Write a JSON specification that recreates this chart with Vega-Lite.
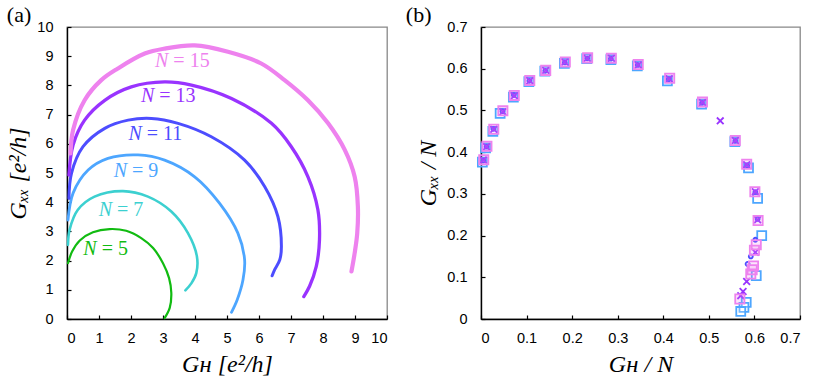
{
  "$schema": "https://vega.github.io/schema/vega-lite/v6.json",
  "background": "white",
  "padding": {"left": 6, "top": 3, "right": 5, "bottom": 0},
  "spacing": 16,
  "config": {
    "view": {"stroke": "#888", "strokeWidth": 1.3},
    "axis": {"grid": false, "domainColor": "#000", "domainWidth": 1.4, "tickColor": "#000", "tickWidth": 1.2, "tickSize": -4, "labelFont": "Liberation Sans", "labelFontSize": 14.5, "labelColor": "#000", "labelOverlap": false, "titleFont": "Liberation Serif", "titleFontSize": 24, "titleFontWeight": "normal", "titleFontStyle": "italic", "titleColor": "#000"},
    "axisX": {"labelPadding": 16, "titlePadding": 8},
    "axisY": {"labelPadding": 18, "titlePadding": 6},
    "title": {"font": "Liberation Serif", "fontSize": 22, "fontWeight": "normal", "color": "#000", "anchor": "start", "frame": "bounds"}
  },
  "hconcat": [
    {
      "width": 320,
      "height": 292,
      "title": {"text": "(a)", "offset": -8},
      "encoding": {
        "x": {"field": "gh", "type": "quantitative", "scale": {"domain": [0, 10], "nice": false}, "axis": {"values": [0, 1, 2, 3, 4, 5, 6, 7, 8, 9, 10], "title": "Gʜ [e²/h]"}},
        "y": {"field": "gxx", "type": "quantitative", "scale": {"domain": [0, 10], "nice": false}, "axis": {"values": [0, 1, 2, 3, 4, 5, 6, 7, 8, 9, 10], "title": "Gₓₓ [e²/h]"}},
        "color": {"field": "N", "type": "nominal", "scale": {"domain": ["5", "7", "9", "11", "13", "15"], "range": ["#11bb11", "#3cd0d0", "#4da6ff", "#4d4dff", "#9933ff", "#ee82ee"]}, "legend": null}
      },
      "layer": [
        {
          "data": {"values": [
            {"N": "5", "gh": 3.05, "gxx": 0.03}, {"N": "5", "gh": 3.21, "gxx": 0.38}, {"N": "5", "gh": 3.26, "gxx": 0.89}, {"N": "5", "gh": 3.19, "gxx": 1.40}, {"N": "5", "gh": 3.0, "gxx": 1.91}, {"N": "5", "gh": 2.69, "gxx": 2.43}, {"N": "5", "gh": 2.32, "gxx": 2.77}, {"N": "5", "gh": 1.85, "gxx": 3.02}, {"N": "5", "gh": 1.33, "gxx": 3.08}, {"N": "5", "gh": 0.81, "gxx": 2.97}, {"N": "5", "gh": 0.40, "gxx": 2.69}, {"N": "5", "gh": 0.16, "gxx": 2.31}, {"N": "5", "gh": 0.03, "gxx": 1.91},
            {"N": "7", "gh": 3.70, "gxx": 0.98}, {"N": "7", "gh": 3.89, "gxx": 1.23}, {"N": "7", "gh": 4.04, "gxx": 1.57}, {"N": "7", "gh": 4.06, "gxx": 2.14}, {"N": "7", "gh": 3.78, "gxx": 2.94}, {"N": "7", "gh": 3.26, "gxx": 3.68}, {"N": "7", "gh": 2.53, "gxx": 4.19}, {"N": "7", "gh": 1.75, "gxx": 4.38}, {"N": "7", "gh": 0.86, "gxx": 4.19}, {"N": "7", "gh": 0.34, "gxx": 3.74}, {"N": "7", "gh": 0.08, "gxx": 3.05}, {"N": "7", "gh": 0.03, "gxx": 2.54},
            {"N": "9", "gh": 5.14, "gxx": 0.23}, {"N": "9", "gh": 5.32, "gxx": 0.66}, {"N": "9", "gh": 5.50, "gxx": 1.34}, {"N": "9", "gh": 5.55, "gxx": 2.03}, {"N": "9", "gh": 5.34, "gxx": 2.94}, {"N": "9", "gh": 4.77, "gxx": 3.96}, {"N": "9", "gh": 3.99, "gxx": 4.87}, {"N": "9", "gh": 3.05, "gxx": 5.44}, {"N": "9", "gh": 2.22, "gxx": 5.62}, {"N": "9", "gh": 1.28, "gxx": 5.50}, {"N": "9", "gh": 0.66, "gxx": 5.10}, {"N": "9", "gh": 0.19, "gxx": 4.31}, {"N": "9", "gh": 0.03, "gxx": 3.39},
            {"N": "11", "gh": 6.41, "gxx": 1.48}, {"N": "11", "gh": 6.49, "gxx": 1.69}, {"N": "11", "gh": 6.65, "gxx": 2.03}, {"N": "11", "gh": 6.70, "gxx": 2.48}, {"N": "11", "gh": 6.59, "gxx": 3.51}, {"N": "11", "gh": 6.18, "gxx": 4.53}, {"N": "11", "gh": 5.55, "gxx": 5.44}, {"N": "11", "gh": 4.51, "gxx": 6.24}, {"N": "11", "gh": 3.47, "gxx": 6.70}, {"N": "11", "gh": 2.64, "gxx": 6.87}, {"N": "11", "gh": 1.91, "gxx": 6.81}, {"N": "11", "gh": 1.18, "gxx": 6.53}, {"N": "11", "gh": 0.50, "gxx": 5.90}, {"N": "11", "gh": 0.14, "gxx": 4.99}, {"N": "11", "gh": 0.06, "gxx": 4.13},
            {"N": "13", "gh": 7.40, "gxx": 0.77}, {"N": "13", "gh": 7.58, "gxx": 1.12}, {"N": "13", "gh": 7.79, "gxx": 1.80}, {"N": "13", "gh": 7.89, "gxx": 2.71}, {"N": "13", "gh": 7.84, "gxx": 3.74}, {"N": "13", "gh": 7.53, "gxx": 4.87}, {"N": "13", "gh": 7.01, "gxx": 5.90}, {"N": "13", "gh": 6.39, "gxx": 6.70}, {"N": "13", "gh": 5.14, "gxx": 7.55}, {"N": "13", "gh": 3.89, "gxx": 8.01}, {"N": "13", "gh": 3.05, "gxx": 8.12}, {"N": "13", "gh": 2.01, "gxx": 7.95}, {"N": "13", "gh": 1.18, "gxx": 7.49}, {"N": "13", "gh": 0.55, "gxx": 6.81}, {"N": "13", "gh": 0.19, "gxx": 5.96}, {"N": "13", "gh": 0.06, "gxx": 4.93},
            {"N": "15", "gh": 8.89, "gxx": 1.63}, {"N": "15", "gh": 8.99, "gxx": 2.26}, {"N": "15", "gh": 9.07, "gxx": 2.94}, {"N": "15", "gh": 9.09, "gxx": 3.85}, {"N": "15", "gh": 8.99, "gxx": 4.87}, {"N": "15", "gh": 8.68, "gxx": 5.79}, {"N": "15", "gh": 8.16, "gxx": 6.70}, {"N": "15", "gh": 7.53, "gxx": 7.49}, {"N": "15", "gh": 6.80, "gxx": 8.18}, {"N": "15", "gh": 6.07, "gxx": 8.75}, {"N": "15", "gh": 5.03, "gxx": 9.15}, {"N": "15", "gh": 3.99, "gxx": 9.37}, {"N": "15", "gh": 3.05, "gxx": 9.26}, {"N": "15", "gh": 2.43, "gxx": 9.09}, {"N": "15", "gh": 1.59, "gxx": 8.58}, {"N": "15", "gh": 1.07, "gxx": 8.18}, {"N": "15", "gh": 0.55, "gxx": 7.49}, {"N": "15", "gh": 0.19, "gxx": 6.47}, {"N": "15", "gh": 0.11, "gxx": 5.67}
          ]},
          "mark": {"type": "line", "interpolate": "catmull-rom", "strokeCap": "round", "strokeJoin": "round"},
          "encoding": {
            "strokeWidth": {"field": "N", "type": "nominal", "scale": {"type": "ordinal", "domain": ["5", "7", "9", "11", "13", "15"], "range": [2.2, 2.6, 2.8, 3, 3.3, 4.2]}, "legend": null},
            "detail": {"field": "N"},
            "order": {"value": null}
          }
        },
        {
          "data": {"name": "labels", "values": [
            {"N": "5", "gh": 0.99, "gxx": 2.20, "t": "= 5"},
            {"N": "7", "gh": 1.47, "gxx": 3.53, "t": "= 7"},
            {"N": "9", "gh": 1.94, "gxx": 4.87, "t": "= 9"},
            {"N": "11", "gh": 2.40, "gxx": 6.13, "t": "= 11"},
            {"N": "13", "gh": 2.79, "gxx": 7.44, "t": "= 13"},
            {"N": "15", "gh": 3.23, "gxx": 8.63, "t": "= 15"}
          ]},
          "mark": {"type": "text", "text": "N", "font": "Liberation Serif", "fontSize": 20, "fontStyle": "italic", "align": "right", "baseline": "alphabetic", "dx": -2}
        },
        {
          "data": {"name": "labels"},
          "mark": {"type": "text", "font": "Liberation Serif", "fontSize": 20, "align": "left", "baseline": "alphabetic", "dx": 3},
          "encoding": {"text": {"field": "t"}}
        }
      ]
    },
    {
      "width": 319,
      "height": 292,
      "title": {"text": "(b)", "dx": -11, "offset": -8},
      "data": {"values": [
        {"N": "9", "gh": 0.003, "gxx": 0.376}, {"N": "9", "gh": 0.010, "gxx": 0.410}, {"N": "9", "gh": 0.026, "gxx": 0.450}, {"N": "9", "gh": 0.042, "gxx": 0.493}, {"N": "9", "gh": 0.071, "gxx": 0.532}, {"N": "9", "gh": 0.105, "gxx": 0.569}, {"N": "9", "gh": 0.140, "gxx": 0.594}, {"N": "9", "gh": 0.183, "gxx": 0.613}, {"N": "9", "gh": 0.232, "gxx": 0.624}, {"N": "9", "gh": 0.285, "gxx": 0.622}, {"N": "9", "gh": 0.343, "gxx": 0.607}, {"N": "9", "gh": 0.409, "gxx": 0.571}, {"N": "9", "gh": 0.484, "gxx": 0.515}, {"N": "9", "gh": 0.557, "gxx": 0.425}, {"N": "9", "gh": 0.587, "gxx": 0.362}, {"N": "9", "gh": 0.607, "gxx": 0.289}, {"N": "9", "gh": 0.616, "gxx": 0.200}, {"N": "9", "gh": 0.604, "gxx": 0.104}, {"N": "9", "gh": 0.582, "gxx": 0.040}, {"N": "9", "gh": 0.577, "gxx": 0.028}, {"N": "9", "gh": 0.570, "gxx": 0.018},
        {"N": "11", "gh": 0.005, "gxx": 0.380}, {"N": "11", "gh": 0.012, "gxx": 0.413}, {"N": "11", "gh": 0.027, "gxx": 0.456}, {"N": "11", "gh": 0.047, "gxx": 0.498}, {"N": "11", "gh": 0.072, "gxx": 0.537}, {"N": "11", "gh": 0.106, "gxx": 0.571}, {"N": "11", "gh": 0.141, "gxx": 0.595}, {"N": "11", "gh": 0.184, "gxx": 0.615}, {"N": "11", "gh": 0.233, "gxx": 0.625}, {"N": "11", "gh": 0.285, "gxx": 0.624}, {"N": "11", "gh": 0.344, "gxx": 0.609}, {"N": "11", "gh": 0.412, "gxx": 0.575}, {"N": "11", "gh": 0.485, "gxx": 0.518}, {"N": "11", "gh": 0.558, "gxx": 0.427}, {"N": "11", "gh": 0.584, "gxx": 0.368}, {"N": "11", "gh": 0.602, "gxx": 0.304}, {"N": "11", "gh": 0.607, "gxx": 0.240}, {"N": "11", "gh": 0.602, "gxx": 0.190}, {"N": "11", "gh": 0.592, "gxx": 0.150}, {"N": "11", "gh": 0.585, "gxx": 0.132},
        {"N": "13", "gh": 0.005, "gxx": 0.381}, {"N": "13", "gh": 0.012, "gxx": 0.413}, {"N": "13", "gh": 0.028, "gxx": 0.455}, {"N": "13", "gh": 0.048, "gxx": 0.497}, {"N": "13", "gh": 0.073, "gxx": 0.535}, {"N": "13", "gh": 0.107, "gxx": 0.571}, {"N": "13", "gh": 0.142, "gxx": 0.596}, {"N": "13", "gh": 0.184, "gxx": 0.616}, {"N": "13", "gh": 0.233, "gxx": 0.625}, {"N": "13", "gh": 0.286, "gxx": 0.625}, {"N": "13", "gh": 0.345, "gxx": 0.609}, {"N": "13", "gh": 0.413, "gxx": 0.576}, {"N": "13", "gh": 0.486, "gxx": 0.519}, {"N": "13", "gh": 0.525, "gxx": 0.475}, {"N": "13", "gh": 0.558, "gxx": 0.428}, {"N": "13", "gh": 0.583, "gxx": 0.370}, {"N": "13", "gh": 0.602, "gxx": 0.305}, {"N": "13", "gh": 0.607, "gxx": 0.238}, {"N": "13", "gh": 0.602, "gxx": 0.160}, {"N": "13", "gh": 0.583, "gxx": 0.090}, {"N": "13", "gh": 0.575, "gxx": 0.066}, {"N": "13", "gh": 0.570, "gxx": 0.056},
        {"N": "15", "gh": 0.006, "gxx": 0.382}, {"N": "15", "gh": 0.013, "gxx": 0.414}, {"N": "15", "gh": 0.028, "gxx": 0.455}, {"N": "15", "gh": 0.048, "gxx": 0.499}, {"N": "15", "gh": 0.073, "gxx": 0.536}, {"N": "15", "gh": 0.107, "gxx": 0.572}, {"N": "15", "gh": 0.142, "gxx": 0.596}, {"N": "15", "gh": 0.185, "gxx": 0.616}, {"N": "15", "gh": 0.234, "gxx": 0.626}, {"N": "15", "gh": 0.286, "gxx": 0.625}, {"N": "15", "gh": 0.345, "gxx": 0.610}, {"N": "15", "gh": 0.414, "gxx": 0.577}, {"N": "15", "gh": 0.486, "gxx": 0.520}, {"N": "15", "gh": 0.558, "gxx": 0.428}, {"N": "15", "gh": 0.583, "gxx": 0.371}, {"N": "15", "gh": 0.601, "gxx": 0.305}, {"N": "15", "gh": 0.608, "gxx": 0.236}, {"N": "15", "gh": 0.604, "gxx": 0.178}, {"N": "15", "gh": 0.600, "gxx": 0.165}, {"N": "15", "gh": 0.598, "gxx": 0.127}, {"N": "15", "gh": 0.595, "gxx": 0.118}, {"N": "15", "gh": 0.592, "gxx": 0.108}, {"N": "15", "gh": 0.568, "gxx": 0.048}
      ]},
      "mark": {"type": "point", "filled": false, "strokeWidth": 1.8, "fillOpacity": 0.2},
      "encoding": {
        "x": {"field": "gh", "type": "quantitative", "scale": {"domain": [0, 0.7], "nice": false}, "axis": {"values": [0, 0.1, 0.2, 0.3, 0.4, 0.5, 0.6, 0.7], "format": "~g", "title": "Gʜ / N"}},
        "y": {"field": "gxx", "type": "quantitative", "scale": {"domain": [0, 0.7], "nice": false}, "axis": {"values": [0, 0.1, 0.2, 0.3, 0.4, 0.5, 0.6, 0.7], "format": "~g", "title": "Gₓₓ / N"}},
        "color": {"field": "N", "type": "nominal", "scale": {"domain": ["9", "11", "13", "15"], "range": ["#4da6ff", "#4d4dff", "#9933ff", "#ee82ee"]}, "legend": null},
        "fill": {"field": "N", "type": "nominal", "scale": {"domain": ["9", "11", "13", "15"], "range": ["#ffffff", "#4d4dff", "#9933ff", "#ee82ee"]}, "legend": null},
        "shape": {"field": "N", "type": "nominal", "scale": {"domain": ["9", "11", "13", "15"], "range": ["square", "circle", "M-1,-1L1,1M1,-1L-1,1", "square"]}, "legend": null},
        "size": {"field": "N", "type": "nominal", "scale": {"type": "ordinal", "domain": ["9", "11", "13", "15"], "range": [80, 16, 45, 85]}, "legend": null}
      }
    }
  ]
}
